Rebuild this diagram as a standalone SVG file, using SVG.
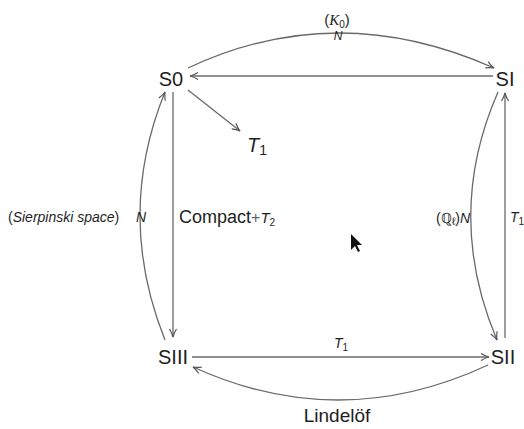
<svg xmlns="http://www.w3.org/2000/svg" width="524" height="429" viewBox="0 0 524 429">
<defs>
<style>
.n{font-family:"Liberation Sans",Arial,sans-serif;font-size:20px;fill:#1e1e1e}
.l{font-family:"Liberation Sans",Arial,sans-serif;fill:#1e1e1e}
.it{font-style:italic}
.e{fill:none;stroke:#6a6a6a;stroke-width:1.3}
</style>
<marker id="ah" viewBox="0 0 10 8" refX="9" refY="4" markerWidth="10" markerHeight="8" markerUnits="userSpaceOnUse" orient="auto">
<path d="M1,0.5 Q5,3 9,4 Q5,5 1,7.5" fill="none" stroke="#555" stroke-width="1.2"/>
</marker>
</defs>
<rect width="524" height="429" fill="#ffffff"/>
<g id="connectors">
<path class="e" d="M188,68 Q337,-2 494,68" marker-end="url(#ah)"/>
<path class="e" d="M493,76 L190,76" marker-end="url(#ah)"/>
<path class="e" d="M188,90 L240,131" marker-end="url(#ah)"/>
<path class="e" d="M173,92 L173,337" marker-end="url(#ah)"/>
<path class="e" d="M165,340 Q115,215 165,92" marker-end="url(#ah)"/>
<path class="e" d="M498,92 Q444,215 497,340" marker-end="url(#ah)"/>
<path class="e" d="M505,338 L505,93" marker-end="url(#ah)"/>
<path class="e" d="M192,357 L489,357" marker-end="url(#ah)"/>
<path class="e" d="M488,365 Q340,434 193,367" marker-end="url(#ah)"/>
<text class="l" x="337" y="25" font-size="15" text-anchor="middle">(<tspan class="it" font-family="Liberation Serif">K</tspan><tspan font-size="10" dy="3">0</tspan><tspan dy="-3">)</tspan></text>
<text class="l it" x="338" y="40" font-size="12" text-anchor="middle">N</text>
<text class="l" x="8" y="222" font-size="14">(<tspan class="it">Sierpinski  space</tspan>)</text>
<text class="l it" x="141" y="222" font-size="14" text-anchor="middle">N</text>
<text class="l" x="179" y="223" font-size="18">Compact<tspan fill="#666" font-size="16">+</tspan><tspan class="it" font-size="15">T</tspan><tspan font-size="10" dy="3">2</tspan></text>
<text class="l" x="436" y="223" font-size="14">(ℚ<tspan font-size="11" dy="2">ℓ</tspan><tspan dy="-2">)</tspan><tspan class="it">N</tspan></text>
<text class="l it" x="510" y="222" font-size="14">T<tspan font-size="10" dy="3" font-style="normal">1</tspan></text>
<text class="l it" x="334" y="348" font-size="14">T<tspan font-size="10" dy="3" font-style="normal">1</tspan></text>
<text class="l" x="337" y="422" font-size="19" text-anchor="middle">Lindelöf</text>
</g>
<g id="S0"><text class="n" x="171" y="86" text-anchor="middle">S0</text></g>
<g id="SI"><text class="n" x="505" y="86" text-anchor="middle">SI</text></g>
<g id="SIII"><text class="n" x="173" y="364" text-anchor="middle">SIII</text></g>
<g id="SII"><text class="n" x="503" y="364" text-anchor="middle">SII</text></g>
<g id="T1"><text class="n it" x="247" y="152" font-size="22">T<tspan font-size="14" dy="3" font-style="normal">1</tspan></text></g>
<path d="M351,234 L351,250 L355,246 L358,252 L360,251 L357,245 L362,245 Z" fill="#111"/>
</svg>
